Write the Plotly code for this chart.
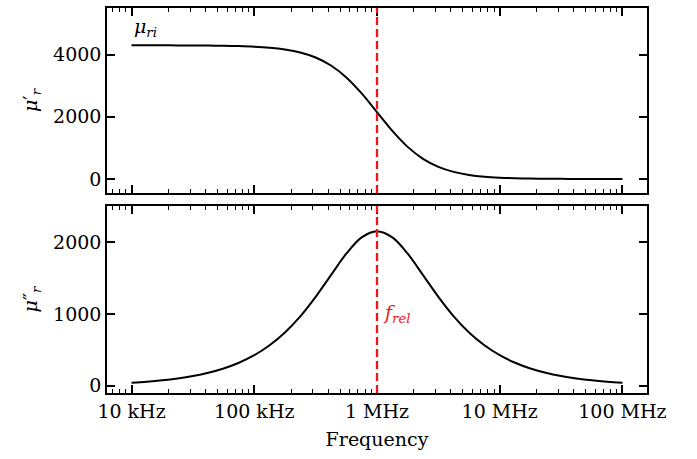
import plotly.graph_objects as go
from plotly.subplots import make_subplots

# Frequencies (Hz), 1/8-decade steps from 10 kHz to 100 MHz
freq = [10000, 13335, 17783, 23714, 31623, 42170, 56234, 74989,
        100000, 133352, 177828, 237137, 316228, 421697, 562341, 749894,
        1000000, 1333521, 1778279, 2371374, 3162278, 4216965, 5623413, 7498942,
        10000000, 13335214, 17782794, 23713737, 31622777, 42169650, 56234133, 74989421,
        100000000]
# real part of permeability
mu_real = [4299.6, 4299.2, 4298.6, 4297.6, 4295.7, 4292.4, 4286.4, 4276.0,
           4257.4, 4224.9, 4168.2, 4071.1, 3909.1, 3650.9, 3266.9, 2752.4,
           2150.0, 1547.6, 1033.1, 649.1, 390.9, 228.9, 131.8, 75.1,
           42.6, 24.0, 13.6, 7.6, 4.3, 2.4, 1.4, 0.8, 0.4]
# imaginary part of permeability
mu_imag = [43.0, 57.4, 76.4, 101.9, 135.8, 181.0, 241.0, 320.6,
           425.7, 563.5, 741.2, 965.3, 1236.1, 1539.5, 1837.0, 2063.9,
           2150.0, 2063.9, 1837.0, 1539.5, 1236.1, 965.3, 741.2, 563.5,
           425.7, 320.6, 241.0, 181.0, 135.8, 101.9, 76.4, 57.4, 43.0]
f_rel = 1000000
tick_vals = [1e4, 1e5, 1e6, 1e7, 1e8]
tick_text = ["10 kHz", "100 kHz", "1 MHz", "10 MHz", "100 MHz"]

FONT = "DejaVu Serif"
TF = dict(family=FONT, size=19, color="black")
fig = make_subplots(rows=2, cols=1, shared_xaxes=True, vertical_spacing=0.034)

fig.add_trace(go.Scatter(x=freq, y=mu_real, mode="lines", line=dict(color="black", width=2, shape="spline"),
                         showlegend=False), row=1, col=1)
fig.add_trace(go.Scatter(x=freq, y=mu_imag, mode="lines", line=dict(color="black", width=2, shape="spline"),
                         showlegend=False), row=2, col=1)

for r in (1, 2):
    fig.add_shape(type="line", x0=f_rel, x1=f_rel, y0=0, y1=1, xref="x" if r == 1 else "x2",
                  yref=("y domain" if r == 1 else "y2 domain"),
                  line=dict(color="#f0141b", width=2.3, dash="8px,4px"))

fig.update_xaxes(type="log", range=[3.8, 8.2], tickmode="array", tickvals=tick_vals, ticktext=tick_text,
                 ticks="inside", ticklen=8, tickwidth=1.5, tickcolor="black", mirror="ticks", tickfont=TF,
                 showline=True, linecolor="black", linewidth=1.5, showgrid=False, zeroline=False,
                 minor=dict(ticks="inside", ticklen=4, tickwidth=1, tickcolor="black", dtick="D1", showgrid=False))
fig.update_xaxes(showticklabels=False, row=1, col=1)
fig.update_xaxes(title=dict(text="Frequency", standoff=12, font=TF), row=2, col=1)

fig.update_yaxes(ticks="inside", ticklen=8, tickwidth=1.5, tickcolor="black", mirror="ticks", tickfont=TF,
                 showline=True, linecolor="black", linewidth=1.5, showgrid=False, zeroline=False)
fig.update_yaxes(range=[-450, 5500], tickvals=[0, 2000, 4000],
                 title=dict(text="<i>μ</i>′<sub><i>r</i></sub>", standoff=10, font=TF), row=1, col=1)
fig.update_yaxes(range=[-100, 2500], tickvals=[0, 1000, 2000],
                 title=dict(text="<i>μ</i>″<sub><i>r</i></sub>", standoff=10, font=TF), row=2, col=1)

fig.update_layout(
    width=697, height=459, margin=dict(l=107, r=50, t=8, b=66, autoexpand=False),
    plot_bgcolor="white", paper_bgcolor="white",
    font=TF,
    yaxis=dict(domain=[0.5195, 1.0], automargin=False), yaxis2=dict(domain=[0.0, 0.4857], automargin=False),
    xaxis=dict(automargin=False), xaxis2=dict(automargin=False),
)
fig.add_annotation(x=4, y=4420, xref="x", yref="y", text="<i>μ<sub>ri</sub></i>", showarrow=False,
                   xanchor="left", yanchor="bottom", font=dict(family=FONT, size=19, color="black"))
fig.add_annotation(x=6, y=1000, xref="x2", yref="y2", text="<i>f<sub>rel</sub></i>", showarrow=False,
                   xanchor="left", yanchor="middle", xshift=4, font=dict(family=FONT, size=19, color="#f0141b"))

fig.write_html("out.html")
